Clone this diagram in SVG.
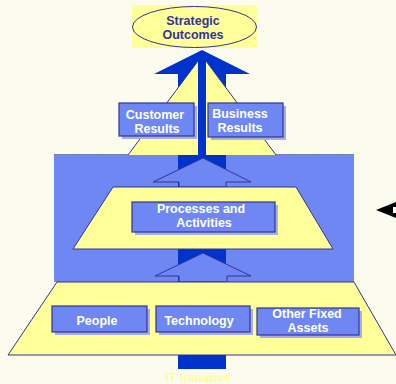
<svg xmlns="http://www.w3.org/2000/svg" width="396" height="384" viewBox="0 0 396 384">
<style>
.bg{fill:#FCFCEE}
.yel{fill:#FFFF99;stroke:#333399;stroke-width:1}
.box{fill:#6F87F2;stroke:#333399;stroke-width:1.2}
.sh{fill:#A8AEDD}
.hol{fill:#6F87F2;stroke:#333399;stroke-width:1}
.t{font-family:"Liberation Sans",Arial,sans-serif;font-weight:bold;font-size:12.5px;text-anchor:middle}
.w{fill:#FFFFFF}
</style>
<rect class="bg" x="0" y="0" width="396" height="384"/>
<g id="panel">
<rect x="54" y="154" width="300" height="128" fill="#6F87F2"/>
<line x1="54" y1="154.5" x2="354" y2="154.5" stroke="#7A7A7A" stroke-width="1" stroke-dasharray="1.5,1.5"/>
</g>
<g id="connectors">
<polygon points="202,50 250,74 226,74 226,369 178,369 178,74 154,74" fill="#0033CC"/>
<polygon class="hol" points="203,158 251,182 226,182 226,187 179,187 179,182 153,182"/>
<polygon class="hol" points="203,253 251,276 227,276 227,282 179,282 179,276 155,276"/>
<g id="arrow-right">
<polygon points="376,210 396,202 396,218" fill="#000000"/>
<rect x="393" y="207" width="3" height="6" fill="#FFFFFF"/>
</g>
</g>
<g id="results-pyramid">
<polygon points="198,61 198,155 128,155" fill="#FFFF99"/>
<polyline points="198,61 128,155" fill="none" stroke="#333399" stroke-width="1"/>
<polygon points="206,61 206,155 276,155" fill="#FFFF99"/>
<polyline points="206,61 276,155" fill="none" stroke="#333399" stroke-width="1"/>
</g>
<g id="strategic-outcomes">
<rect x="132" y="5" width="125" height="43" fill="#FFFF99"/>
<ellipse cx="194.5" cy="27" rx="62" ry="20.5" fill="#FFFF99" stroke="#333399" stroke-width="1"/>
<text class="t" x="193" y="24.5" fill="#333399">Strategic</text>
<text class="t" x="193" y="38.5" fill="#333399">Outcomes</text>
</g>
<g id="customer-results">
<rect class="sh" x="122" y="106" width="75" height="33"/>
<rect class="box" x="119" y="103" width="75" height="33"/>
<text class="t w" x="155" y="119">Customer</text>
<text class="t w" x="157" y="133">Results</text>
</g>
<g id="business-results">
<rect class="sh" x="211" y="106" width="75" height="34"/>
<rect class="box" x="208" y="103" width="75" height="34"/>
<text class="t w" x="240" y="118">Business</text>
<text class="t w" x="240" y="132">Results</text>
</g>
<g id="processes-layer">
<polygon class="yel" points="113,187 296,187 333,249 73,249"/>
</g>
<g id="processes-activities">
<rect class="sh" x="135" y="205" width="143" height="30"/>
<rect class="box" x="132" y="202" width="143" height="30"/>
<text class="t w" x="201" y="212.5">Processes and</text>
<text class="t w" x="204" y="226.5">Activities</text>
</g>
<g id="resources-layer">
<polygon class="yel" points="57,282 354,282 396,355 8,355"/>
</g>
<g id="people">
<rect class="sh" x="55" y="309" width="95" height="26"/>
<rect class="box" x="52" y="306" width="95" height="26"/>
<text class="t w" x="97" y="325">People</text>
</g>
<g id="technology">
<rect class="sh" x="159" y="309" width="94" height="26"/>
<rect class="box" x="156" y="306" width="94" height="26"/>
<text class="t w" x="199" y="325">Technology</text>
</g>
<g id="other-fixed-assets">
<rect class="sh" x="260" y="311" width="102" height="27"/>
<rect class="box" x="257" y="308" width="102" height="27"/>
<text class="t w" x="307" y="318">Other Fixed</text>
<text class="t w" x="308" y="332">Assets</text>
</g>
<g id="it-initiative">
<text class="t" x="198" y="382" fill="#FFFF99">IT Initiative</text>
</g>
</svg>
